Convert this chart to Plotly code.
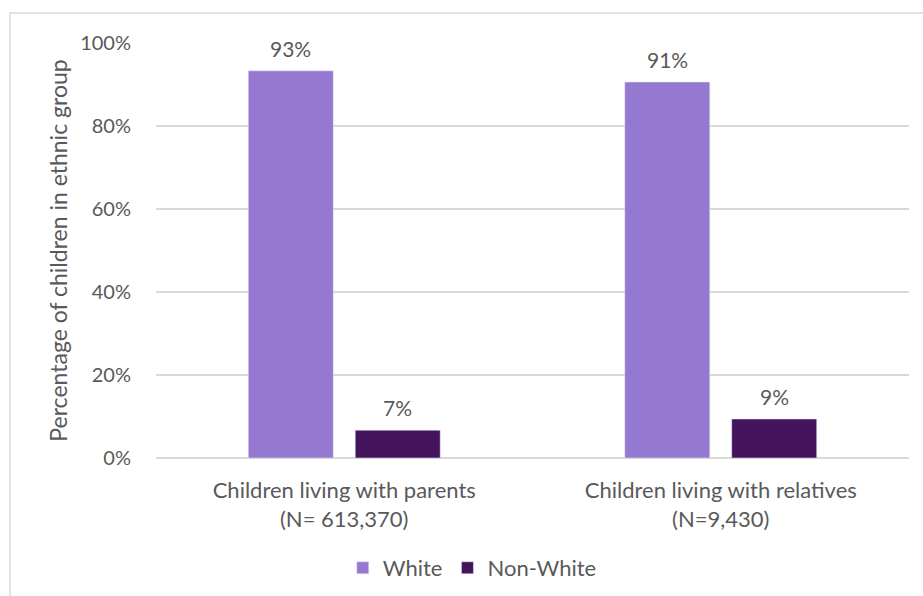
import plotly.graph_objects as go

categories = ["Children living with parents<br>(N= 613,370)",
              "Children living with relatives<br>(N=9,430)"]
white_vals = [93.3, 90.6]
nonwhite_vals = [6.7, 9.4]
white_labels = ["93%", "91%"]
nonwhite_labels = ["7%", "9%"]
y_ticks = [0, 20, 40, 60, 80, 100]
y_ticklabels = ["0%", "20%", "40%", "60%", "80%", "100%"]

FONT = "Lato, 'Open Sans', sans-serif"
TXT = "#595959"
C_WHITE = "#9579d1"
C_NONWHITE = "#44155c"

fig = go.Figure()
fig.add_trace(go.Bar(name="White", x=categories, y=white_vals, marker_color=C_WHITE))
fig.add_trace(go.Bar(name="Non-White", x=categories, y=nonwhite_vals, marker_color=C_NONWHITE))

# data labels above bars
for vals, labels, shift in [(white_vals, white_labels, -53.5), (nonwhite_vals, nonwhite_labels, 53.5)]:
    for c, v, t in zip(categories, vals, labels):
        fig.add_annotation(x=c, y=v, text=t, showarrow=False, xref="x", yref="y",
                           xshift=shift, yshift=8, yanchor="bottom",
                           font=dict(size=21, color=TXT, family=FONT))

# chart frame (partial, as in reference)
x0p = (10 - 156) / 753
y1p = (458 - 13) / 415
fig.add_shape(type="rect", xref="paper", yref="paper", x0=x0p, x1=1.3, y0=-0.6, y1=y1p,
              line=dict(color="#d9d9d9", width=1.5), layer="below")

fig.update_layout(
    width=923, height=596,
    margin=dict(l=156, r=14, t=43, b=138, autoexpand=False),
    plot_bgcolor="white", paper_bgcolor="white",
    barmode="group", bargap=0.432, bargroupgap=0.205,
    font=dict(family=FONT, color=TXT, size=22),
    showlegend=True,
    legend=dict(orientation="h", x=0.42, xanchor="center", y=-0.265, yanchor="middle",
                font=dict(size=22, color=TXT, family=FONT), itemwidth=30,
                traceorder="normal"),
    xaxis=dict(showline=False, ticks="outside", ticklen=13, tickcolor="rgba(0,0,0,0)",
               tickfont=dict(size=22, color=TXT)),
    yaxis=dict(range=[0, 100], tickvals=y_ticks, ticktext=y_ticklabels,
               showgrid=True, gridcolor="#d9d9d9", gridwidth=1.5,
               zeroline=True, zerolinecolor="#d9d9d9", zerolinewidth=1.5,
               ticks="outside", ticklen=20, tickcolor="rgba(0,0,0,0)",
               tickfont=dict(size=20, color=TXT),
               title=dict(text="Percentage of children in ethnic group",
                          font=dict(size=23, color=TXT), standoff=6)),
)

fig.write_html("out.html")
